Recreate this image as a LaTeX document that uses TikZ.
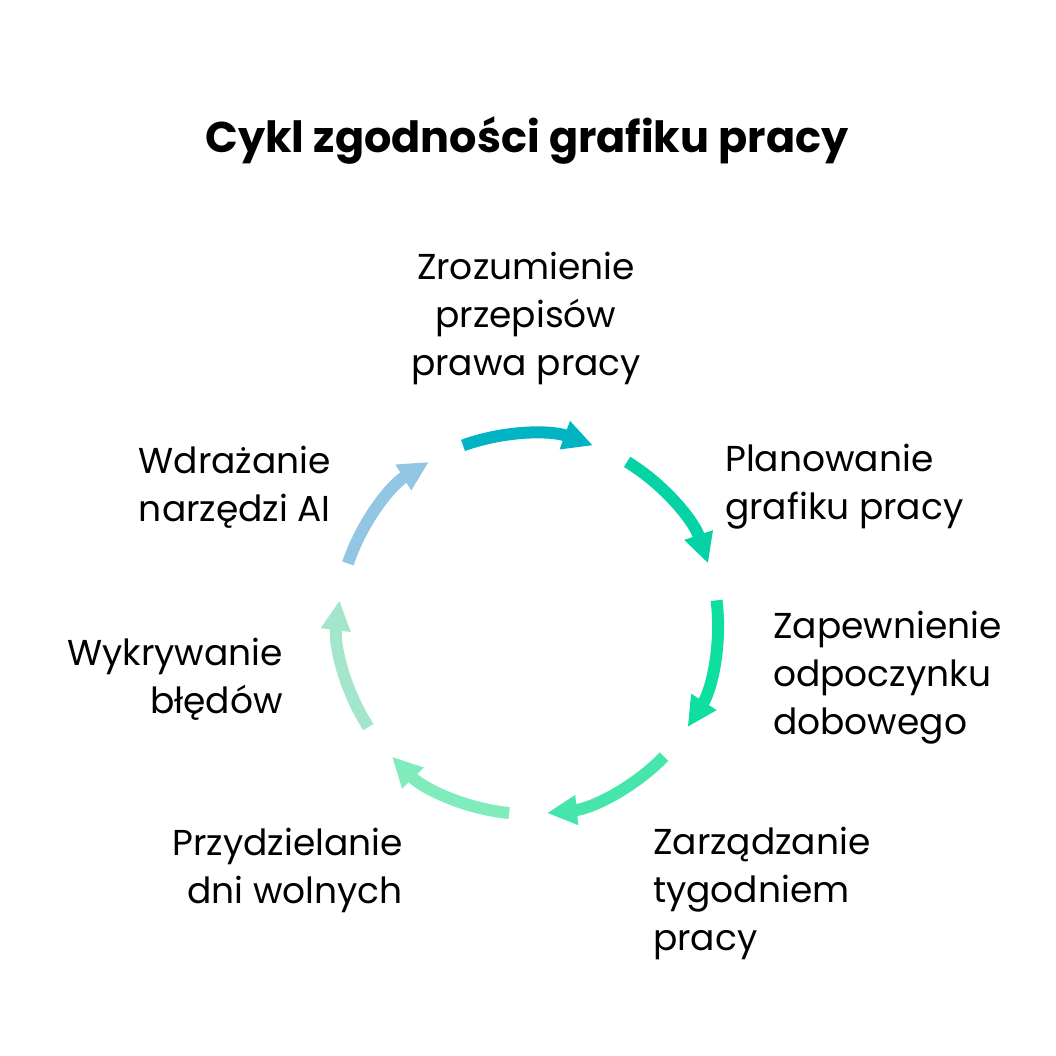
\documentclass[tikz,border=0pt]{standalone}
\usepackage{fontspec}
\setmainfont{Poppins}
\usetikzlibrary{arrows.meta}
\definecolor{arcA}{HTML}{00B4C3}
\definecolor{arcB}{HTML}{05D3A6}
\definecolor{arcC}{HTML}{0EDE9F}
\definecolor{arcD}{HTML}{46E5AB}
\definecolor{arcE}{HTML}{80ECBB}
\definecolor{arcF}{HTML}{A3E6CB}
\definecolor{arcG}{HTML}{92C6E2}

\begin{document}
\begin{tikzpicture}[x=1pt, y=1pt,
    every node/.style={inner sep=0pt, font=\fontsize{36}{48}\selectfont},
    step label/.style={align=#1},
    cycle arc/.style={line width=12pt, draw=#1, -{Triangle[length=30pt, width=28pt, fill=#1]}}]
  \useasboundingbox (0,0) rectangle (1056,1056);
  \node (title) at (527,916) {\fontsize{43}{52}\selectfont\bfseries Cykl zgodności grafiku pracy};
  \coordinate (hub) at (528,432);
  % arcs of the cycle, clockwise
  \foreach \a/\col in {90/arcA, 38.57/arcB, -12.86/arcC, -64.29/arcD, -115.71/arcE, -167.14/arcF, -218.57/arcG}
    \draw[cycle arc=\col] ([shift=({\a+20}:190)]hub) arc[start angle=\a+20, end angle=\a-20, radius=190];
  % labels
  \node[step label=center] (law) at (526,738) {Zrozumienie\\przepisów\\prawa pracy};
  \node[step label=left, anchor=west] (plan) at (725,569) {Planowanie\\grafiku pracy};
  \node[step label=left, anchor=west] (rest) at (773,378) {Zapewnienie\\odpoczynku\\dobowego};
  \node[step label=left, anchor=west] (week) at (653,163) {Zarządzanie\\tygodniem\\pracy};
  \node[step label=right, anchor=east] (days) at (403,186) {Przydzielanie\\dni wolnych};
  \node[step label=right, anchor=east] (errors) at (283,377) {Wykrywanie\\błędów};
  \node[step label=right, anchor=east] (ai) at (331,569) {Wdrażanie\\narzędzi AI};
\end{tikzpicture}
\end{document}
